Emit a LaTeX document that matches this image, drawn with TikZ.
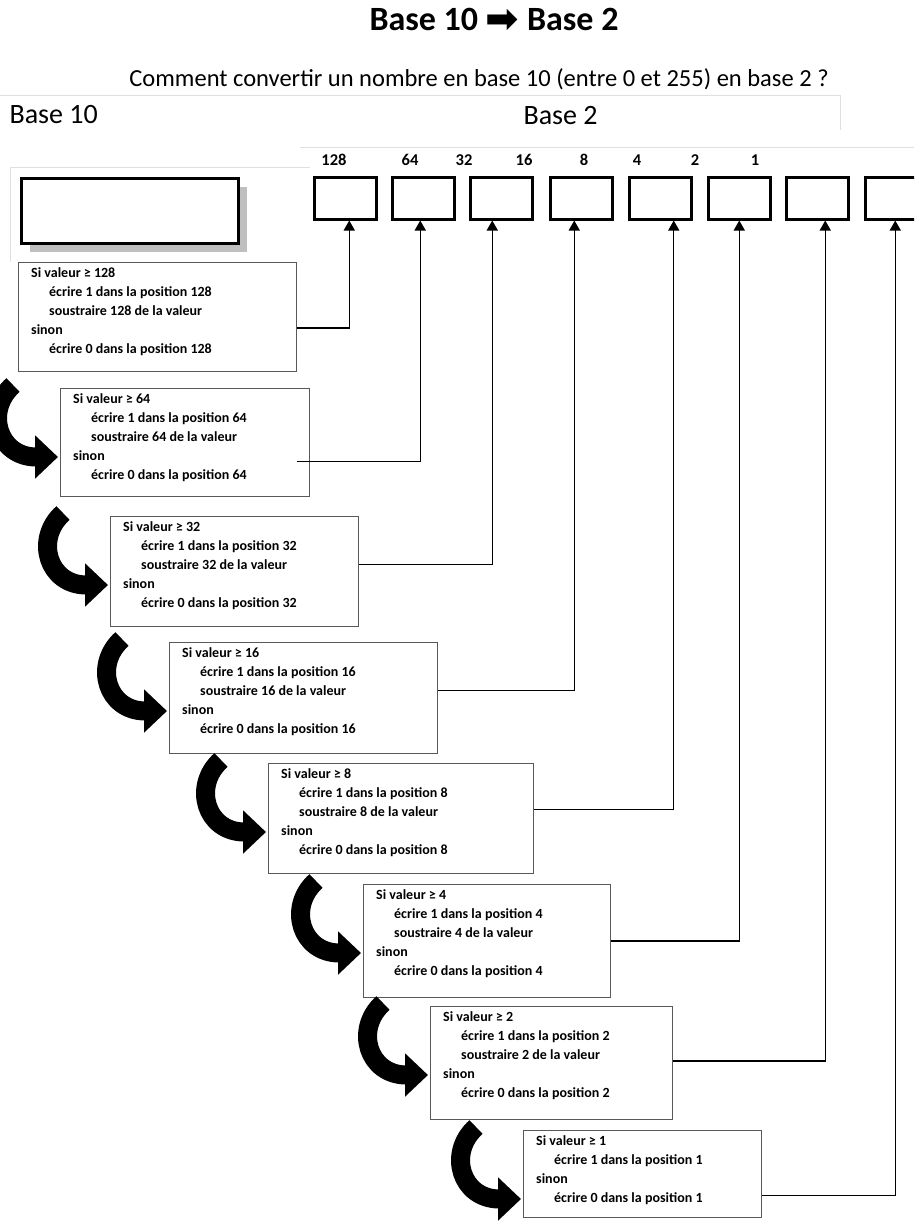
\documentclass[tikz,border=0pt]{standalone}
\usepackage{fontspec}
\setmainfont{Carlito}
\newfontfamily\symb{DejaVu Sans}
\usetikzlibrary{arrows.meta,shadows}

\tikzset{
  case/.style={draw=black, line width=2.5pt, minimum width=62pt, minimum height=42pt, anchor=north west, inner sep=0pt},
  regle/.style={draw=black!65, line width=0.9pt, anchor=north west, inner sep=0pt},
  texte/.style={anchor=north west, align=left, inner sep=0pt, font=\fontsize{14}{19}\selectfont\bfseries},
  chiffre/.style={font=\fontsize{16.5}{16.5}\selectfont\bfseries},
  lien/.style={line width=1.4pt, -{Triangle[width=11pt,length=10pt]}},
  fleche/.style={line width=19pt, -{Triangle[width=42pt,length=23pt]}},
  trace/.style={draw=black!12, line width=1pt}
}
\newcommand{\ind}{\hspace*{18pt}}

\begin{document}
\begin{tikzpicture}[x=1pt,y=-1pt]
\useasboundingbox (0,0) rectangle (914,1227);
\clip (0,0) rectangle (914,1227);
% faint frames
\draw[trace] (0,95) -- (840,95) -- (840,130);
\draw[trace] (300,147) -- (914,147);
\draw[trace] (10,262) -- (10,167) -- (310,167);
% titles
\node[font=\fontsize{34}{34}\selectfont\bfseries] (titre) at (494,20) {Base 10 {\symb\fontsize{40}{40}\selectfont\raisebox{-2pt}{➡}} Base 2};
\node[font=\fontsize{24.5}{24.5}\selectfont] (question) at (479,79) {Comment convertir un nombre en base 10 (entre 0 et 255) en base 2 ?};
\node[font=\fontsize{28}{28}\selectfont, anchor=west] (base10) at (6,115) {Base 10};
\node[font=\fontsize{28}{28}\selectfont, anchor=west] (base2) at (520,116) {Base 2};
%% the base 10 value
\node[draw=black, line width=3pt, fill=white, minimum width=217pt, minimum height=65pt, anchor=north west,
  drop shadow={shadow xshift=9pt, shadow yshift=-9pt, fill=black!50}] (valeur) at (19.5,176.5) {};
%% the base 2 digits
\node[case] (c128) at (313,176) {};
\node[case] (c64) at (391,176) {};
\node[case] (c32) at (469,176) {};
\node[case] (c16) at (549,176) {};
\node[case] (c8) at (628,176) {};
\node[case] (c4) at (707,176) {};
\node[case] (c2) at (785,176) {};
\node[case] (c1) at (864,176) {};
\node[chiffre] (t128) at (334,160) {128};
\node[chiffre] (t64) at (410,160) {64};
\node[chiffre] (t32) at (464,160) {32};
\node[chiffre] (t16) at (524,160) {16};
\node[chiffre] (t8) at (584,160) {8};
\node[chiffre] (t4) at (637,160) {4};
\node[chiffre] (t2) at (695,160) {2};
\node[chiffre] (t1) at (755,160) {1};
%% the steps
\node[regle, minimum width=278pt, minimum height=109pt] (r128) at (18,262) {};
\node[texte] (x128) at ([shift={(13,5)}]r128.north west) {Si valeur ≥ 128\\ \ind écrire 1 dans la position 128\\ \ind soustraire 128 de la valeur\\ sinon\\ \ind écrire 0 dans la position 128};
\node[regle, minimum width=249pt, minimum height=108pt] (r64) at (60,388) {};
\node[texte] (x64) at ([shift={(13,5)}]r64.north west) {Si valeur ≥ 64\\ \ind écrire 1 dans la position 64\\ \ind soustraire 64 de la valeur\\ sinon\\ \ind écrire 0 dans la position 64};
\node[regle, minimum width=248pt, minimum height=110pt] (r32) at (110,516) {};
\node[texte] (x32) at ([shift={(13,5)}]r32.north west) {Si valeur ≥ 32\\ \ind écrire 1 dans la position 32\\ \ind soustraire 32 de la valeur\\ sinon\\ \ind écrire 0 dans la position 32};
\node[regle, minimum width=268pt, minimum height=111pt] (r16) at (169,642) {};
\node[texte] (x16) at ([shift={(13,5)}]r16.north west) {Si valeur ≥ 16\\ \ind écrire 1 dans la position 16\\ \ind soustraire 16 de la valeur\\ sinon\\ \ind écrire 0 dans la position 16};
\node[regle, minimum width=265pt, minimum height=110pt] (r8) at (268,763) {};
\node[texte] (x8) at ([shift={(13,5)}]r8.north west) {Si valeur ≥ 8\\ \ind écrire 1 dans la position 8\\ \ind soustraire 8 de la valeur\\ sinon\\ \ind écrire 0 dans la position 8};
\node[regle, minimum width=247pt, minimum height=113pt] (r4) at (363,884) {};
\node[texte] (x4) at ([shift={(13,5)}]r4.north west) {Si valeur ≥ 4\\ \ind écrire 1 dans la position 4\\ \ind soustraire 4 de la valeur\\ sinon\\ \ind écrire 0 dans la position 4};
\node[regle, minimum width=242pt, minimum height=113pt] (r2) at (430,1006) {};
\node[texte] (x2) at ([shift={(13,5)}]r2.north west) {Si valeur ≥ 2\\ \ind écrire 1 dans la position 2\\ \ind soustraire 2 de la valeur\\ sinon\\ \ind écrire 0 dans la position 2};
\node[regle, minimum width=238pt, minimum height=87pt] (r1) at (523,1130) {};
\node[texte] (x1) at ([shift={(13,5)}]r1.north west) {Si valeur ≥ 1\\ \ind écrire 1 dans la position 1\\ sinon\\ \ind écrire 0 dans la position 1};
%% links to the digits
\draw[lien] ([yshift=-11pt]r128.east) -| ([xshift=4pt]c128.south);
\draw[lien] ([xshift=-13pt,yshift=-19pt]r64.east) -| ([xshift=-3pt]c64.south);
\draw[lien] ([yshift=7pt]r32.east) -| ([xshift=-9pt]c32.south);
\draw[lien] ([yshift=7.5pt]r16.east) -| ([xshift=-7pt]c16.south);
\draw[lien] ([yshift=9pt]r8.east) -| ([xshift=13.5pt]c8.south);
\draw[lien] (r4.east) -| (c4.south);
\draw[lien] ([yshift=2pt]r2.east) -| ([xshift=8pt]c2.south);
\draw[lien] ([yshift=-21.5pt]r1.east) -| ([xshift=-1pt]c1.south);
%% next step
\draw[fleche] ([shift={(-47,-3)}]r64.north west) .. controls ([shift={(-76,23)}]r64.north west) and ([shift={(-62,69)}]r64.north west) .. ([shift={(-2,69)}]r64.north west);
\draw[fleche] ([shift={(-47,-3)}]r32.north west) .. controls ([shift={(-76,23)}]r32.north west) and ([shift={(-62,69)}]r32.north west) .. ([shift={(-2,69)}]r32.north west);
\draw[fleche] ([shift={(-47,-3)}]r16.north west) .. controls ([shift={(-76,23)}]r16.north west) and ([shift={(-62,69)}]r16.north west) .. ([shift={(-2,69)}]r16.north west);
\draw[fleche] ([shift={(-47,-3)}]r8.north west) .. controls ([shift={(-76,23)}]r8.north west) and ([shift={(-62,69)}]r8.north west) .. ([shift={(-2,69)}]r8.north west);
\draw[fleche] ([shift={(-47,-3)}]r4.north west) .. controls ([shift={(-76,23)}]r4.north west) and ([shift={(-62,69)}]r4.north west) .. ([shift={(-2,69)}]r4.north west);
\draw[fleche] ([shift={(-47,-3)}]r2.north west) .. controls ([shift={(-76,23)}]r2.north west) and ([shift={(-62,69)}]r2.north west) .. ([shift={(-2,69)}]r2.north west);
\draw[fleche] ([shift={(-47,-3)}]r1.north west) .. controls ([shift={(-76,23)}]r1.north west) and ([shift={(-62,69)}]r1.north west) .. ([shift={(-2,69)}]r1.north west);
\end{tikzpicture}
\end{document}
